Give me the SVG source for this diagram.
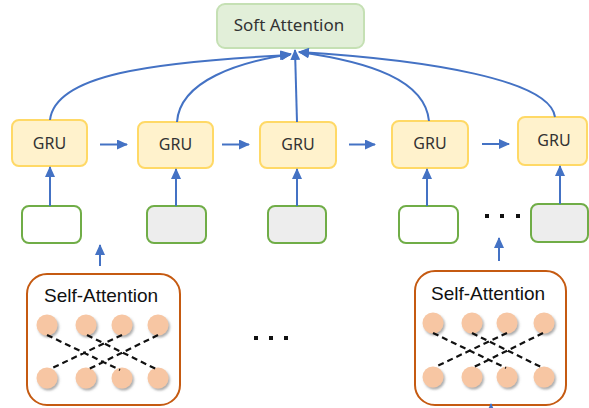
<svg xmlns="http://www.w3.org/2000/svg" width="589" height="408" viewBox="0 0 589 408">
<defs>
<marker id="ah" markerUnits="userSpaceOnUse" markerWidth="11" markerHeight="10" viewBox="0 0 11 10" refX="10" refY="5" orient="auto">
<path d="M0,0 L11,5 L0,10 z" fill="#4472c4"/>
</marker>
<filter id="sh" x="-50%" y="-50%" width="200%" height="200%">
<feDropShadow dx="1.5" dy="2" stdDeviation="1.3" flood-color="#777" flood-opacity="0.6"/>
</filter>
<style>
.soft{fill:#e2efd9;stroke:#c5e0b4;stroke-width:2}
.gru{fill:#fff2cc;stroke:#ffd966;stroke-width:2}
.inp{fill:#ffffff;stroke:#70ad47;stroke-width:2}
.inp.g{fill:#ededed}
.sa{fill:#ffffff;stroke:#c55a11;stroke-width:2}
.lbl{font-family:"Noto Sans","Liberation Sans",sans-serif;fill:#333;text-anchor:middle}
.salbl{font-family:"Liberation Sans",Arial,sans-serif;font-size:19px;fill:#111;text-anchor:middle}
.arr{fill:none;stroke:#4472c4;stroke-width:2;marker-end:url(#ah)}
.dot{fill:#f7c6a3;filter:url(#sh)}
.dash{stroke:#111;stroke-width:2.2;stroke-dasharray:6 4;fill:none}
.ell{fill:#111}
</style>
</defs>

<g id="soft-attention">
<rect class="soft" x="217" y="4" width="147" height="44" rx="8"/>
<text class="lbl" x="289" y="31" font-size="17">Soft Attention</text>
</g>

<g id="gru1"><rect class="gru" x="12" y="120" width="75" height="46" rx="7"/><text class="lbl" x="49.5" y="148.5" font-size="16">GRU</text></g>
<g id="gru2"><rect class="gru" x="138" y="122" width="75" height="46" rx="7"/><text class="lbl" x="175.5" y="150" font-size="16">GRU</text></g>
<g id="gru3"><rect class="gru" x="260" y="122" width="76" height="46" rx="7"/><text class="lbl" x="298" y="150" font-size="16">GRU</text></g>
<g id="gru4"><rect class="gru" x="392" y="121" width="76" height="47" rx="7"/><text class="lbl" x="430" y="149" font-size="16">GRU</text></g>
<g id="gru5"><rect class="gru" x="518" y="117" width="69" height="48" rx="7"/><text class="lbl" x="554" y="146" font-size="16">GRU</text></g>

<g id="input1"><rect class="inp" x="22" y="206" width="59" height="37" rx="7"/></g>
<g id="input2"><rect class="inp g" x="147" y="206" width="59" height="37" rx="7"/></g>
<g id="input3"><rect class="inp g" x="268" y="206" width="58" height="37" rx="7"/></g>
<g id="input4"><rect class="inp" x="399" y="206" width="59" height="37" rx="7"/></g>
<g id="input5"><rect class="inp g" x="531" y="204" width="57" height="38" rx="7"/></g>

<g id="ellipsis-top">
<rect class="ell" x="485" y="214" width="4" height="4"/>
<rect class="ell" x="500" y="214" width="4" height="4"/>
<rect class="ell" x="516" y="214" width="4" height="4"/>
</g>
<g id="ellipsis-mid">
<rect class="ell" x="254" y="336" width="4" height="4"/>
<rect class="ell" x="269" y="336" width="4" height="4"/>
<rect class="ell" x="284" y="336" width="4" height="4"/>
</g>

<g id="self-attention1">
<rect class="sa" x="27" y="274" width="153" height="131" rx="20"/>
<text class="salbl" x="101" y="302">Self-Attention</text>
<circle class="dot" cx="47" cy="325" r="10.5"/>
<circle class="dot" cx="86" cy="325" r="10.5"/>
<circle class="dot" cx="122" cy="325" r="10.5"/>
<circle class="dot" cx="158" cy="325" r="10.5"/>
<circle class="dot" cx="47" cy="378" r="10.5"/>
<circle class="dot" cx="86" cy="378" r="10.5"/>
<circle class="dot" cx="122" cy="378" r="10.5"/>
<circle class="dot" cx="158" cy="378" r="10.5"/>
<path class="dash" d="M47,335 L120,370 M87,335 L158,370 M122,335 L50,369 M158,335 L87,370"/>
</g>

<g id="self-attention2">
<rect class="sa" x="415" y="271" width="151" height="134" rx="20"/>
<text class="salbl" x="488" y="300">Self-Attention</text>
<circle class="dot" cx="433" cy="323" r="10.5"/>
<circle class="dot" cx="472" cy="323" r="10.5"/>
<circle class="dot" cx="507" cy="323" r="10.5"/>
<circle class="dot" cx="544" cy="323" r="10.5"/>
<circle class="dot" cx="433" cy="377" r="10.5"/>
<circle class="dot" cx="472" cy="377" r="10.5"/>
<circle class="dot" cx="507" cy="377" r="10.5"/>
<circle class="dot" cx="544" cy="377" r="10.5"/>
<path class="dash" d="M433,333 L506,368 M472,333 L543,368 M507,333 L435,367 M543,333 L472,368"/>
</g>

<g id="connectors">
<path class="arr" d="M50,120 C55,75 150,62 290,55"/>
<path class="arr" d="M177,122 C180,80 240,62 291,54"/>
<path class="arr" d="M297,122 L295,50"/>
<path class="arr" d="M429,121 C425,80 370,62 299,52"/>
<path class="arr" d="M555,117 C550,80 430,60 299,52"/>
<line class="arr" x1="100" y1="144.5" x2="127" y2="144.5"/>
<line class="arr" x1="222" y1="144.5" x2="249" y2="144.5"/>
<line class="arr" x1="349" y1="144.5" x2="375" y2="144.5"/>
<line class="arr" x1="482" y1="144" x2="509" y2="144"/>
<line class="arr" x1="50" y1="206" x2="50" y2="167"/>
<line class="arr" x1="176" y1="206" x2="176" y2="169"/>
<line class="arr" x1="297" y1="206" x2="297" y2="169"/>
<line class="arr" x1="427" y1="206" x2="427" y2="169"/>
<line class="arr" x1="560" y1="204" x2="560" y2="166"/>
<line class="arr" x1="100" y1="266" x2="100" y2="245"/>
<line class="arr" x1="499" y1="261" x2="499" y2="238"/>
<line class="arr" x1="491" y1="425" x2="491" y2="404"/>
</g>
</svg>
